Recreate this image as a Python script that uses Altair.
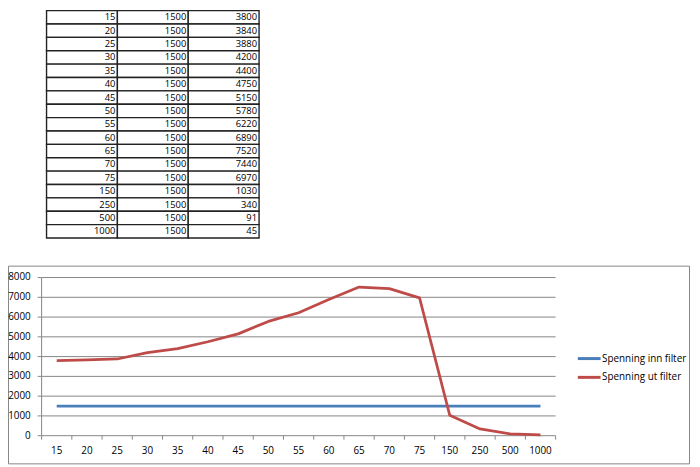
import altair as alt
import pandas as pd

# ---- data ----
freqs = ["15", "20", "25", "30", "35", "40", "45", "50", "55", "60",
         "65", "70", "75", "150", "250", "500", "1000"]
spenning_inn = [1500, 1500, 1500, 1500, 1500, 1500, 1500, 1500, 1500,
                1500, 1500, 1500, 1500, 1500, 1500, 1500, 1500]
spenning_ut = [3800, 3840, 3880, 4200, 4400, 4750, 5150, 5780, 6220,
               6890, 7520, 7440, 6970, 1030, 340, 91, 45]
y_ticks = [0, 1000, 2000, 3000, 4000, 5000, 6000, 7000, 8000]
series_names = ["Spenning inn filter", "Spenning ut filter"]
series_colors = ["#4a7ebb", "#be4b48"]

FONT = "Open Sans"
GRID = "#868686"

# ---- layout (view coordinates) ----
W, H = 692, 459
PX0, PX1 = 34, 554          # plot area x range
PY0, PY1 = 430, 270         # plot area y range (0 -> 8000)
TBL_X = [39, 254]
TBL_Y = [0, 230]

n = len(freqs)
xpoint = alt.Scale(type="point", domain=freqs, range=[PX0, PX1], padding=0.5)
yscale = alt.Scale(domain=[0, 8000], range=[PY0, PY1], nice=False, zero=False)

# ---- table ----
trows = []
for i, (f, a, b) in enumerate(zip(freqs, spenning_inn, spenning_ut)):
    for c, v in enumerate([f, a, b]):
        trows.append({"row": i, "col": c, "txt": str(v)})
tdf = pd.DataFrame(trows)
tx = alt.Scale(type="band", domain=[0, 1, 2], range=TBL_X, paddingInner=0, paddingOuter=0)
ty = alt.Scale(type="band", domain=list(range(n)), range=TBL_Y, paddingInner=0, paddingOuter=0)

cells = alt.Chart(tdf).mark_rect(fill="white", stroke="#222222", strokeWidth=1.4).encode(
    x=alt.X("col:O", scale=tx, axis=None),
    y=alt.Y("row:O", scale=ty, axis=None),
)
cell_text = alt.Chart(tdf).mark_text(align="right", baseline="middle", dx=-2,
                                     font=FONT, fontSize=9.5, color="#000").encode(
    x=alt.X("col:O", scale=tx, axis=None, bandPosition=1),
    y=alt.Y("row:O", scale=ty, axis=None),
    text="txt:N",
)

# ---- chart frame ----
frame = alt.Chart(pd.DataFrame({"a": [0]})).mark_rect(
    fill="white", stroke=GRID, strokeWidth=1).encode(
    x=alt.value(0.5), x2=alt.value(689.5), y=alt.value(258.5), y2=alt.value(458.5))

ydf = pd.DataFrame({"v": y_ticks})
grid = alt.Chart(ydf).mark_rule(color=GRID, strokeWidth=1).encode(
    y=alt.Y("v:Q", scale=yscale, axis=None),
    x=alt.value(PX0), x2=alt.value(PX1))

yaxis_line = alt.Chart(pd.DataFrame({"lo": [y_ticks[0]], "hi": [y_ticks[-1]]})).mark_rule(
    color=GRID).encode(
    y=alt.Y("lo:Q", scale=yscale, axis=None), y2="hi:Q", x=alt.value(PX0))

yticks = alt.Chart(ydf).mark_rule(color=GRID).encode(
    y=alt.Y("v:Q", scale=yscale, axis=None), x=alt.value(PX0 - 4), x2=alt.value(PX0))

ylabels = alt.Chart(ydf).mark_text(align="right", baseline="middle", font=FONT,
                                   fontSize=10, color="#000").encode(
    y=alt.Y("v:Q", scale=yscale, axis=None), x=alt.value(PX0 - 11), text="v:Q")

bdf = pd.DataFrame({"b": list(range(n + 1))})
xticks = alt.Chart(bdf).mark_rule(color=GRID).encode(
    x=alt.X("b:Q", scale=alt.Scale(domain=[0, n], range=[PX0, PX1], nice=False, zero=False), axis=None),
    y=alt.value(PY0), y2=alt.value(PY0 + 4))

xdf = pd.DataFrame({"f": freqs})
xlabels = alt.Chart(xdf).mark_text(align="center", baseline="middle", font=FONT,
                                   fontSize=10, color="#000").encode(
    x=alt.X("f:O", scale=xpoint, axis=None), y=alt.value(PY0 + 16), text="f:N")

# ---- lines ----
ldf = pd.DataFrame(
    [{"f": f, "i": i, "series": series_names[0], "value": v} for i, (f, v) in enumerate(zip(freqs, spenning_inn))]
    + [{"f": f, "i": i, "series": series_names[1], "value": v} for i, (f, v) in enumerate(zip(freqs, spenning_ut))]
)
lines = alt.Chart(ldf).mark_line(strokeWidth=2.75, strokeJoin="round").encode(
    x=alt.X("f:O", scale=xpoint, axis=None),
    y=alt.Y("value:Q", scale=yscale, axis=None),
    order="i:Q",
    color=alt.Color("series:N",
                    scale=alt.Scale(domain=series_names, range=series_colors),
                    legend=alt.Legend(orient="none", legendX=575, legendY=339, title=None,
                                      symbolType="stroke", symbolSize=529, symbolStrokeWidth=3,
                                      labelFont=FONT, labelFontSize=10, labelColor="#000",
                                      labelOffset=0, rowPadding=-3, padding=0)),
)

chart = alt.layer(
    cells, cell_text, frame, grid, yaxis_line, yticks, ylabels, xticks, xlabels, lines
).resolve_scale(
    x="independent", y="independent", color="independent"
).properties(
    width=W, height=H, padding=0,
    autosize=alt.AutoSizeParams(type="none"),
).configure(font=FONT).configure_view(strokeWidth=0, stroke=None)

chart.save("out.html", embed_options={"renderer": "svg", "actions": False})
